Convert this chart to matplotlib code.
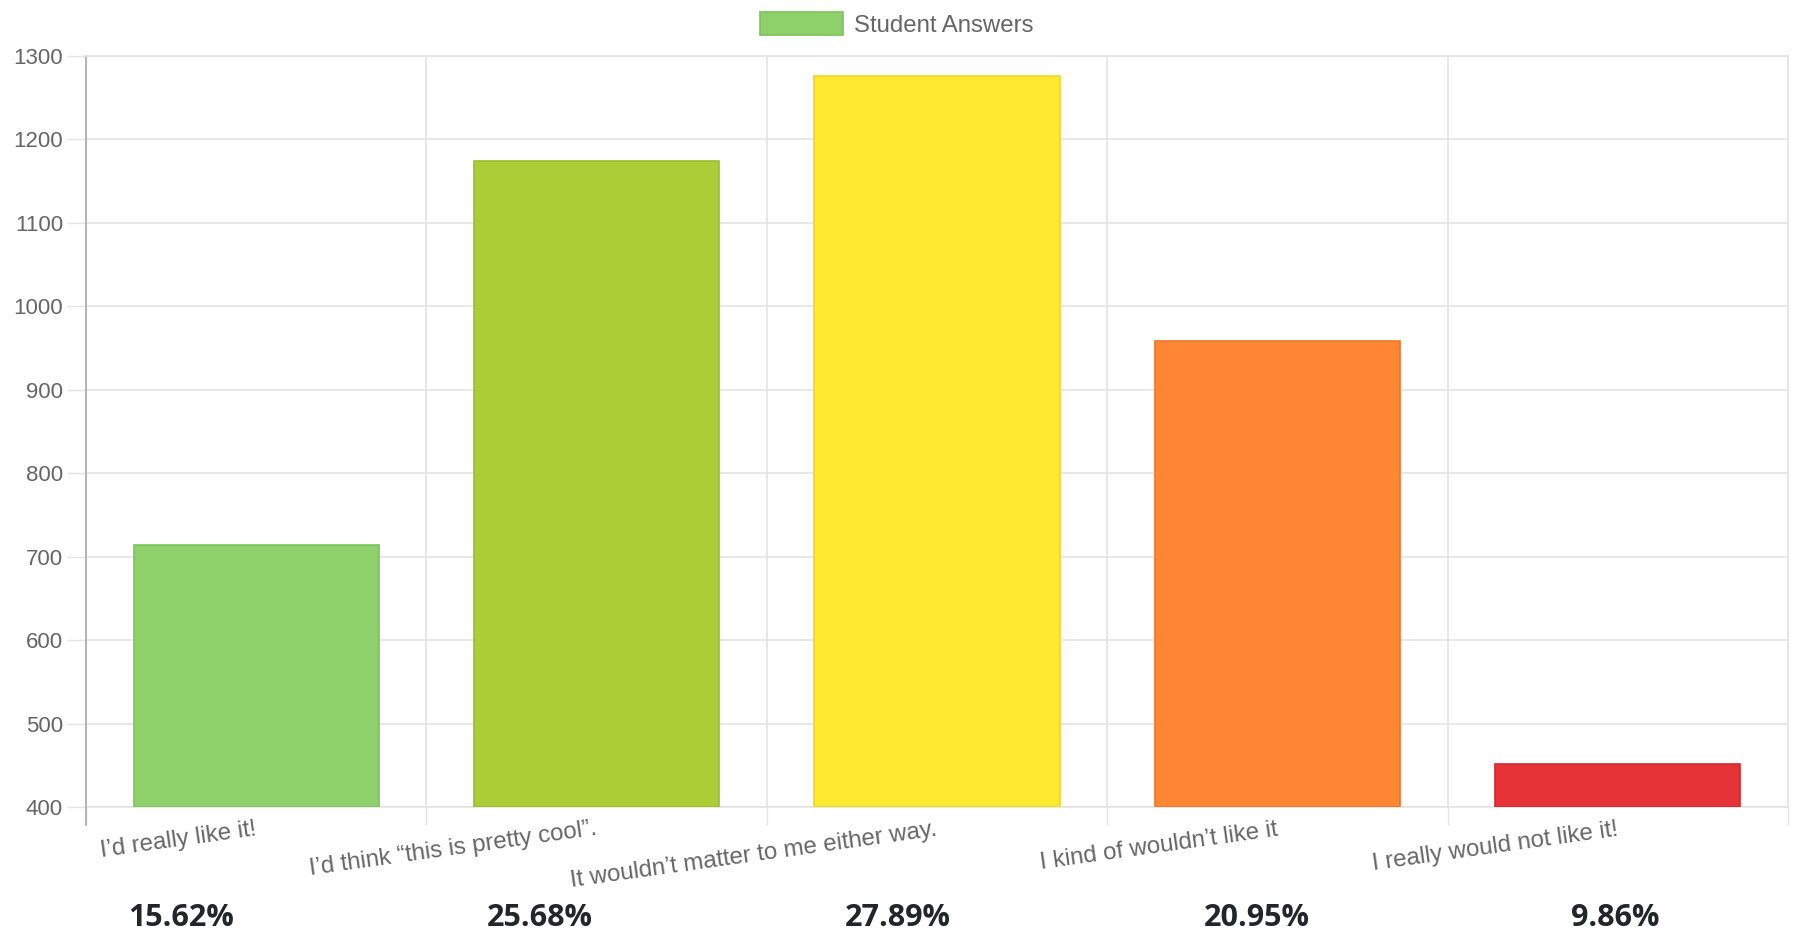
import numpy as np
import matplotlib
matplotlib.use("Agg")
import matplotlib.pyplot as plt
from matplotlib.ticker import FixedLocator

# data
CATEGORIES = [
    "I’d really like it!",
    "I’d think “this is pretty cool”.",
    "It wouldn’t matter to me either way.",
    "I kind of wouldn’t like it",
    "I really would not like it!",
]
COUNTS   = [714, 1174, 1275, 958, 451]
PERCENTS = ["15.62%", "25.68%", "27.89%", "20.95%", "9.86%"]
COLORS   = ["#8ed16b", "#accd36", "#ffe931", "#ff8633", "#e53338"]
EDGES    = ["#7cc35a", "#9cbd2c", "#efd82a", "#ef7628", "#d5282d"]
Y_TICKS  = [400, 500, 600, 700, 800, 900, 1000, 1100, 1200, 1300]
SERIES   = "Student Answers"

plt.rcParams["font.family"] = ["Liberation Sans", "DejaVu Sans"]
GRID  = "#e4e4e4"
TEXT  = "#666666"

W, H, DPI = 1793, 935, 100
fig = plt.figure(figsize=(W / DPI, H / DPI), dpi=DPI)
ax = fig.add_axes([86 / W, 1 - 807 / H, (1788 - 86) / W, (807 - 55.5) / H])

x = np.arange(len(CATEGORIES))
bars = ax.bar(x, np.array(COUNTS) - Y_TICKS[0], bottom=Y_TICKS[0], width=0.72,
              color=COLORS, edgecolor=EDGES, linewidth=1.2, zorder=3,
              label=SERIES)

ax.set_xlim(-0.5, len(CATEGORIES) - 0.5)
ax.set_ylim(Y_TICKS[0], Y_TICKS[-1])

# y axis: grid lines stick out as ticks
ax.set_yticks(Y_TICKS)
ax.tick_params(axis="y", length=13.5, width=1, color=GRID, pad=3,
               labelsize=16, labelcolor=TEXT)
ax.grid(axis="y", color=GRID, linewidth=1.2, zorder=0)

# x axis: labels at centres, grid/ticks at category boundaries
ax.set_xticks(x)
ax.set_xticklabels(CATEGORIES, rotation=8, ha="right", va="center",
                   rotation_mode="anchor", fontsize=17.3, color=TEXT)
ax.tick_params(axis="x", which="major", length=0, pad=16)
ax.xaxis.set_minor_locator(FixedLocator(np.arange(-0.5, len(CATEGORIES), 1.0)))
ax.tick_params(axis="x", which="minor", length=13, width=1, color=GRID)
ax.grid(axis="x", which="minor", color=GRID, linewidth=1.2, zorder=0)

for side in ["top", "right", "bottom"]:
    ax.spines[side].set_color(GRID)
    ax.spines[side].set_linewidth(1.2)
ax.spines["left"].set_color("#a8a8a8")
ax.spines["left"].set_linewidth(1.2)

# left axis line continues below the plot like a tick
ax.plot([-0.5, -0.5], [Y_TICKS[0], Y_TICKS[0] - 22], color="#a8a8a8",
        linewidth=1.2, clip_on=False, zorder=4)

leg = fig.legend(handles=[bars[0]], labels=[SERIES], loc="center",
                 bbox_to_anchor=(0.5, 1 - 24.5 / H), frameon=False,
                 fontsize=17.3, handlelength=3.45, handleheight=1.05,
                 handletextpad=0.45, labelcolor=TEXT)

# percentage row under the chart
for i, p in enumerate(PERCENTS):
    fig.text((i + 0.5) / len(PERCENTS) + 0.001, 1 - 918 / H, p,
             ha="center", va="center", fontsize=22, fontweight="bold",
             family=["Open Sans", "DejaVu Sans"], color="#222529")

fig.savefig("out.png", dpi=DPI, facecolor="white")
